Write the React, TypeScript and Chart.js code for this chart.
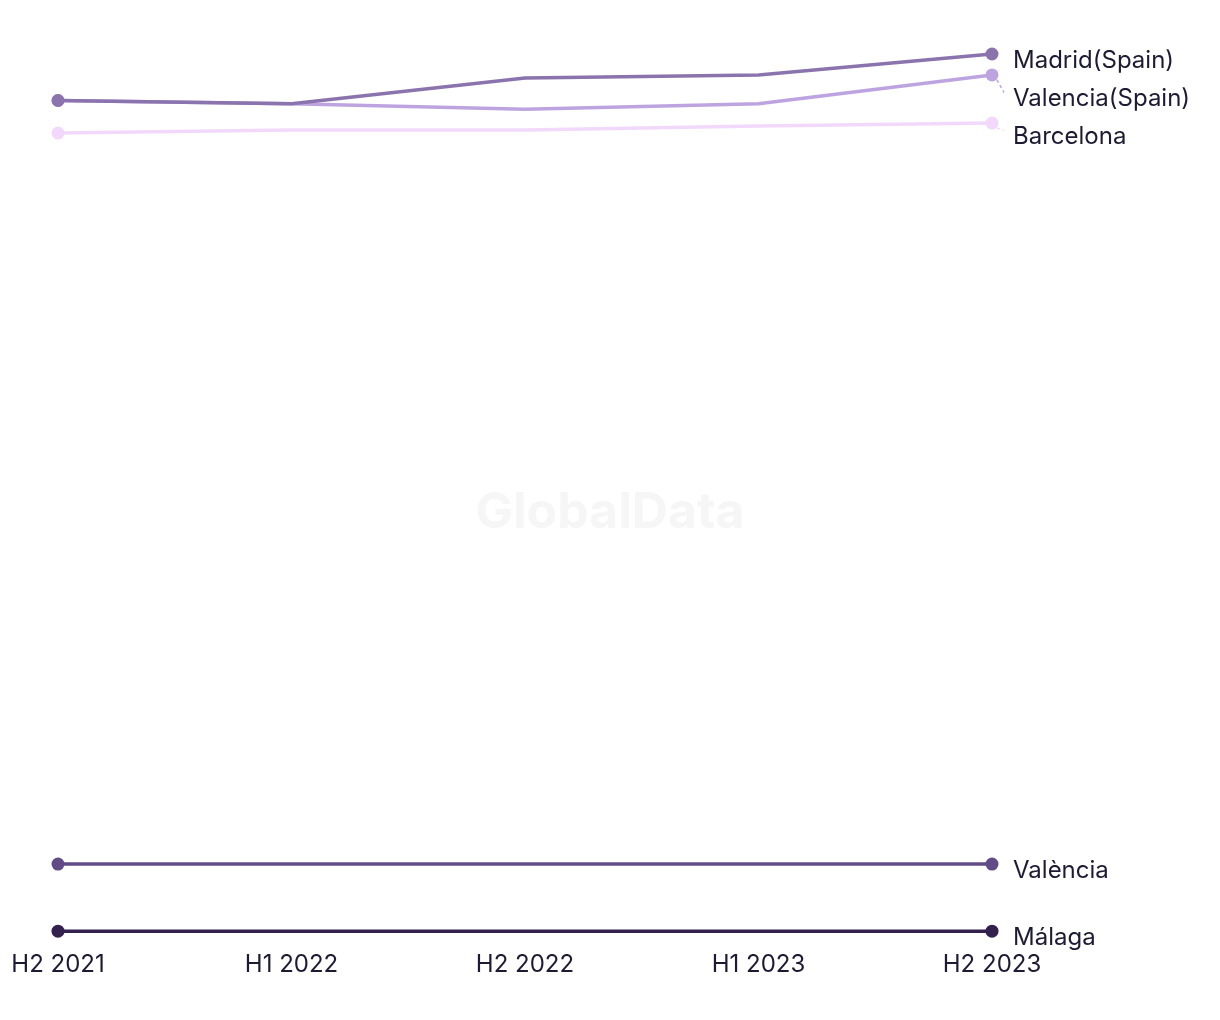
import React, { useEffect, useRef } from "react";
import { Chart, registerables } from "chart.js";

Chart.register(...registerables);

const categories = ["H2 2021", "H1 2022", "H2 2022", "H1 2023", "H2 2023"];
const seriesNames = ["Madrid(Spain)", "Valencia(Spain)", "Barcelona", "València", "Málaga"];
const madrid = [252.0, 251.0, 258.8, 259.7, 266.0];
const valenciaSpain = [252.0, 251.0, 249.4, 251.0, 259.7];
const barcelona = [242.2, 243.1, 243.1, 244.3, 245.2];
const valenciaCity = [22.2, 22.2, 22.2, 22.2, 22.2];
const malaga = [2.0, 2.0, 2.0, 2.0, 2.0];
const seriesValues = [madrid, valenciaSpain, barcelona, valenciaCity, malaga];
const seriesColors = ["#8b73ad", "#bda4e0", "#f2d9fb", "#614c88", "#33204f"];

const FONT = "Inter, 'Noto Sans', sans-serif";
const TEXT = "#1c1b33";

const endLabels = {
  id: "endLabels",
  beforeDraw(chart: any) {
    const ctx = chart.ctx;
    ctx.save();
    ctx.font = `bold 50px ${FONT}`;
    ctx.fillStyle = "#f6f6f6";
    ctx.textAlign = "center";
    ctx.textBaseline = "middle";
    ctx.fillText("GlobalData", 610, 513);
    ctx.restore();
  },
  afterDatasetsDraw(chart: any) {
    const ctx = chart.ctx;
    const items = chart.data.datasets.map((ds: any, i: number) => {
      const meta = chart.getDatasetMeta(i);
      const pt = meta.data[meta.data.length - 1];
      return { label: ds.label, x: pt.x, y: pt.y, color: ds.borderColor, ly: 0 };
    });
    const sorted = [...items].sort((a, b) => a.y - b.y);
    let prev = -Infinity;
    for (const it of sorted) {
      it.ly = Math.max(it.y + 6.5, prev + 38);
      prev = it.ly;
    }
    ctx.save();
    ctx.font = `24px ${FONT}`;
    ctx.textAlign = "left";
    ctx.textBaseline = "middle";
    for (const it of sorted) {
      if (it.ly - it.y > 9) {
        ctx.strokeStyle = it.color;
        ctx.lineWidth = 1.5;
        ctx.setLineDash([3, 3]);
        ctx.beginPath();
        ctx.moveTo(it.x + 5, it.y + 5);
        ctx.lineTo(it.x + 12, it.ly - 6);
        ctx.stroke();
        ctx.setLineDash([]);
      }
      ctx.fillStyle = TEXT;
      ctx.fillText(it.label, it.x + 21, it.ly);
    }
    ctx.restore();
  },
};

export default function App() {
  const ref = useRef<HTMLCanvasElement>(null);
  useEffect(() => {
    document.body.style.margin = "0";
    const chart = new Chart(ref.current!, {
      type: "line",
      data: {
        labels: categories,
        datasets: seriesNames.map((name, i) => ({
          label: name,
          data: seriesValues[i],
          borderColor: seriesColors[i],
          backgroundColor: seriesColors[i],
          borderWidth: 3.5,
          pointRadius: (c: any) => (c.dataIndex === 0 || c.dataIndex === categories.length - 1 ? 6.5 : 0),
          pointHoverRadius: 6.5,
          pointBorderWidth: 0,
          tension: 0,
          clip: false as any,
        })),
      },
      options: {
        animation: false,
        responsive: false,
        layout: { padding: { left: 58, right: 228, top: 54, bottom: 30 } },
        plugins: { legend: { display: false }, tooltip: { enabled: false } },
        scales: {
          x: {
            offset: false,
            grid: { display: false },
            border: { display: false },
            ticks: { color: TEXT, font: { family: FONT, size: 24 }, padding: 11, maxRotation: 0 },
          },
          y: {
            display: false,
            min: 2,
            max: 266,
          },
        },
      },
      plugins: [endLabels],
    });
    return () => chart.destroy();
  }, []);
  return <canvas ref={ref} width={1220} height={1020} style={{ display: "block" }} />;
}
